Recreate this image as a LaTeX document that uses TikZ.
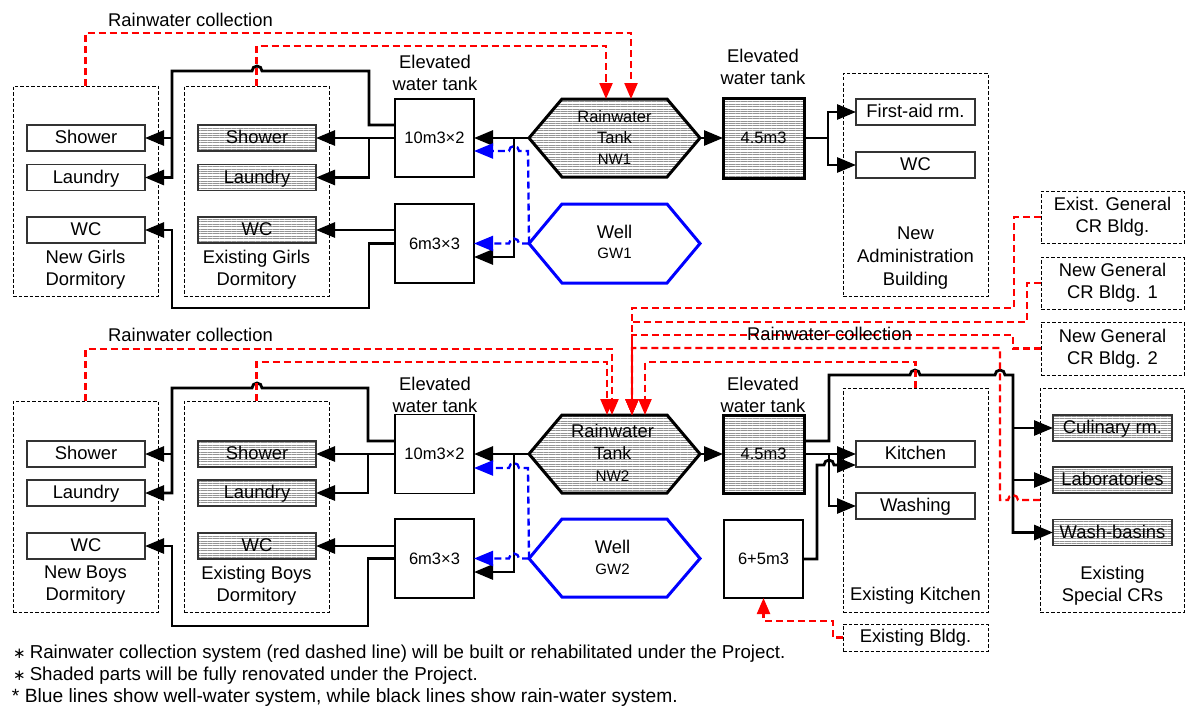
\documentclass[tikz,border=0pt]{standalone}
\usepackage{fontspec}
\setmainfont{Liberation Sans}
\newfontfamily\dejavu{DejaVu Sans}
\usetikzlibrary{arrows.meta,patterns.meta}
\begin{document}
\begin{tikzpicture}[x=1pt,y=-1pt,
  every node/.style={inner sep=0pt, outer sep=0pt},
  txt/.style={font=\fontsize{18.4}{22}\selectfont, align=center},
  hatch/.style={preaction={fill=white}, pattern={Lines[angle=0,distance=2.4pt,line width=0.8pt]}, pattern color=black!42},
  ibox/.style={draw=black!80, line width=1.2pt, minimum width=118pt, minimum height=26pt, font=\fontsize{18.4}{22}\selectfont, text height=13.4pt, text depth=2pt},
  sbox/.style={ibox, hatch},
  dbox/.style={draw, line width=1pt, dash pattern=on 3.5pt off 2pt, txt},
  tank/.style={draw, line width=1.3pt, minimum width=79pt, minimum height=79pt, font=\fontsize{16.5}{20}\selectfont},
  stank/.style={tank, line width=3pt, hatch},
  hexk/.style={draw, line width=3pt, line join=miter, hatch},
  hexb/.style={draw=blue, line width=3pt, line join=miter},
  bk/.style={line width=2.8pt, -{Triangle[length=19pt,width=15pt]}},
  rd/.style={red, line width=2.3pt, dash pattern=on 7pt off 4pt, -{Triangle[length=16pt,width=13pt]}},
  bl/.style={blue, line width=2.3pt, dash pattern=on 7pt off 4pt, -{Triangle[length=19pt,width=15pt]}},
  foot/.style={font=\fontsize{18.7}{22}\selectfont, anchor=west, text height=13.4pt, text depth=4pt}
]
\useasboundingbox (0,0) rectangle (1185,709);

% ---------- dashed building boxes ----------
\node[dbox, minimum width=145pt, minimum height=210pt] (ngd) at (85.5,191) {};
\node[dbox, minimum width=145pt, minimum height=210pt] (egd) at (256.5,191) {};
\node[dbox, minimum width=145pt, minimum height=223pt] (nab) at (915.5,184.5) {};
\node[dbox, minimum width=143pt, minimum height=52pt] (egc) at (1112.5,217) {Exist. General\\CR Bldg.};
\node[dbox, minimum width=143pt, minimum height=52pt] (ng1) at (1112.5,283) {New General\\CR Bldg. 1};
\node[dbox, minimum width=143pt, minimum height=53pt] (ng2) at (1112.5,348.5) {New General\\CR Bldg. 2};
\node[dbox, minimum width=145pt, minimum height=211pt] (nbd) at (85.5,506.5) {};
\node[dbox, minimum width=145pt, minimum height=211pt] (ebd) at (256.5,506.5) {};
\node[dbox, minimum width=145pt, minimum height=224pt] (ek) at (915.5,500) {};
\node[dbox, minimum width=144pt, minimum height=224pt] (esc) at (1112,500) {};
\node[dbox, minimum width=145pt, minimum height=27pt] (eb) at (915.5,637.5) {Existing Bldg.};

% ---------- labels ----------
\node[txt] (rc1) at (190.5,20) {Rainwater collection};
\node[txt] (rc2) at (190.5,335) {Rainwater collection};
\node[txt] (ngdl) at (85.5,270) {New Girls\\Dormitory};
\node[txt] (egdl) at (256.5,270) {Existing Girls\\Dormitory};
\node[txt] (nbdl) at (85.5,585.5) {New Boys\\Dormitory};
\node[txt] (ebdl) at (256.5,585.5) {Existing Boys\\Dormitory};
\node[txt, font=\fontsize{18.4}{23}\selectfont] (nabl) at (915.5,258) {New\\Administration\\Building};
\node[txt] (ekl) at (915.5,596) {Existing Kitchen};
\node[txt] (escl) at (1112.5,585.5) {Existing\\Special CRs};
\node[txt] (ewt1) at (435,73) {Elevated\\water tank};
\node[txt] (ewt2) at (763,66.5) {Elevated\\water tank};
\node[txt] (ewt3) at (435,395) {Elevated\\water tank};
\node[txt] (ewt4) at (763,395) {Elevated\\water tank};

% ---------- item boxes ----------
\node[ibox] (ngs) at (86,138) {Shower};
\node[ibox] (ngl) at (86,177.5) {Laundry};
\node[ibox] (ngw) at (86,230) {WC};
\node[sbox] (egs) at (257,138) {Shower};
\node[sbox] (egl) at (257,177.5) {Laundry};
\node[sbox] (egw) at (257,230) {WC};
\node[ibox, minimum width=119pt] (fa) at (915.5,112) {First-aid rm.};
\node[ibox, minimum width=119pt] (awc) at (915.5,165) {WC};
\node[ibox] (nbs) at (86,454) {Shower};
\node[ibox] (nbl) at (86,493) {Laundry};
\node[ibox] (nbw) at (86,546) {WC};
\node[sbox] (ebs) at (257,454) {Shower};
\node[sbox] (ebl) at (257,493) {Laundry};
\node[sbox] (ebw) at (257,546) {WC};
\node[ibox, minimum width=119pt] (ki) at (915.5,454) {Kitchen};
\node[ibox, minimum width=119pt] (wa) at (915.5,506) {Washing};
\node[sbox, minimum width=119pt] (cu) at (1112.5,428) {Culinary rm.};
\node[sbox, minimum width=119pt] (lab) at (1112.5,480) {Laboratories};
\node[sbox, minimum width=119pt] (wb) at (1112.5,532.5) {Wash-basins};

% ---------- tanks ----------
\node[tank, minimum height=78pt] (t1) at (434.5,138) {10m3×2};
\node[tank] (t2) at (434.5,243.5) {6m3×3};
\node[stank, minimum width=81pt, minimum height=80pt] (t3) at (763.5,138) {4.5m3};
\node[tank] (t4) at (434.5,454) {10m3×2};
\node[tank] (t5) at (434.5,558.5) {6m3×3};
\node[stank, minimum width=81pt, minimum height=78pt] (t6) at (763.5,454) {4.5m3};
\node[tank, minimum height=78pt] (t7) at (763.5,559) {6+5m3};

% ---------- hexagons ----------
\draw[hexk] (529,138) -- (562,99) -- (667,99) -- (700,138) -- (667,177) -- (562,177) -- cycle;
\draw[hexb] (529,243.5) -- (562,204) -- (667,204) -- (700,243.5) -- (667,283) -- (562,283) -- cycle;
\draw[hexk] (529,454) -- (562,415) -- (667,415) -- (700,454) -- (667,493) -- (562,493) -- cycle;
\draw[hexb] (529,558.5) -- (562,519) -- (667,519) -- (700,558.5) -- (667,597) -- (562,597) -- cycle;
\coordinate (nw1w) at (529,138);   \coordinate (nw1e) at (700,138);
\coordinate (gw1w) at (529,243.5);
\coordinate (nw2w) at (529,454);   \coordinate (nw2e) at (700,454);
\coordinate (gw2w) at (529,558.5);
\coordinate (nw1a) at (631,99);    \coordinate (nw1b) at (606,99);
\coordinate (nw2a) at (612,415);   \coordinate (nw2b) at (607,415);
\coordinate (nw2c) at (632,415);   \coordinate (nw2d) at (645,415);

\node[font=\fontsize{16.5}{20}\selectfont] (nw1t1) at (614.5,117) {Rainwater};
\node[font=\fontsize{16.5}{20}\selectfont] (nw1t2) at (614.5,138) {Tank};
\node[font=\fontsize{15}{18}\selectfont] (nw1t3) at (614.5,159) {NW1};
\node[font=\fontsize{18.4}{22}\selectfont] (gw1t1) at (614.5,232) {Well};
\node[font=\fontsize{15}{18}\selectfont] (gw1t2) at (614.5,253) {GW1};
\node[font=\fontsize{18.4}{22}\selectfont] (nw2t1) at (612.5,431) {Rainwater};
\node[font=\fontsize{17.7}{22}\selectfont] (nw2t2) at (612.5,453) {Tank};
\node[font=\fontsize{15.3}{18}\selectfont] (nw2t3) at (612.5,476) {NW2};
\node[font=\fontsize{18.4}{22}\selectfont] (gw2t1) at (612.5,547) {Well};
\node[font=\fontsize{15}{18}\selectfont] (gw2t2) at (612.5,569) {GW2};

% ---------- TOP: black supply lines ----------
\draw[bk] ([yshift=13pt]t1.west) -- (369,125) -- (369,71) -- (262,71)
   arc[start angle=0,end angle=-180,radius=5] -- (172,71) |- (ngl.east);
\draw[bk] (172,100) |- (ngs.east);
\draw[bk] (t1.west) -- (egs.east);
\draw[bk] (369,138) |- (egl.east);
\draw[bk] (t2.west |- egw.east) -- (egw.east);
\draw[bk] (t2.west) -- (369,243.5) -- (369,308) -- (172,308) |- (ngw.east);
\draw[bk] (nw1w) -- (t1.east);
\draw[bk] (514,138) |- ([yshift=-13.5pt]t2.east);
\draw[bk] (nw1e) -- (t3.west);
\draw[bk] (t3.east) -- (828,138) |- (fa.west);
\draw[bk] (828,138) |- (awc.west);
% blue
\draw[bl] (gw1w) -- (519,243.5) arc[start angle=0,end angle=-180,radius=5] -- (t2.east);
\draw[bl] (gw1w) -- (528,151) -- (519,151) arc[start angle=0,end angle=-180,radius=5] -- ([yshift=-13pt]t1.east);
% red
\draw[rd] (ngd.north) |- (631,33) -- (nw1a);
\draw[rd] (egd.north) |- (606,46) -- (nw1b);

% ---------- BOTTOM: black supply lines ----------
\draw[bk] ([yshift=13pt]t4.west) -- (368,441) -- (368,388) -- (262,388)
   arc[start angle=0,end angle=-180,radius=5] -- (172,388) |- (nbl.east);
\draw[bk] (172,420) |- (nbs.east);
\draw[bk] (t4.west) -- (ebs.east);
\draw[bk] (368,454) |- (ebl.east);
\draw[bk] (t5.west |- ebw.east) -- (ebw.east);
\draw[bk] (t5.west) -- (368,558.5) -- (368,626) -- (172,626) |- (nbw.east);
\draw[bk] (nw2w) -- (t4.east);
\draw[bk] (514,454) |- ([yshift=-13.5pt]t5.east);
\draw[bk] (nw2e) -- (t6.west);
\draw[bk] (t6.east) -- (ki.west);
\draw[bk] (829,454) |- (wa.west);
\draw[bk] ([yshift=13pt]t6.east) -- (829,441) -- (829,375) -- (910,375)
   arc[start angle=180,end angle=360,radius=5] -- (995,375)
   arc[start angle=180,end angle=360,radius=5] -- (1013,375) |- (wb.west);
\draw[bk] (1013,400) |- (cu.west);
\draw[bk] (1013,400) |- (lab.west);
\draw[bk] (t7.east) -- (817,559) -- (817,465) -- (824,465)
   arc[start angle=180,end angle=360,radius=5] -- ([yshift=-11pt]ki.west);
% blue
\draw[bl] (gw2w) -- (519,558.5) arc[start angle=0,end angle=-180,radius=5] -- (t5.east);
\draw[bl] (gw2w) -- (528,468) -- (519,468) arc[start angle=0,end angle=-180,radius=5] -- ([yshift=-14pt]t4.east);
% red
\draw[rd] (nbd.north) |- (612,349) -- (nw2a);
\draw[rd] (ebd.north) |- (607,362) -- (nw2b);
\draw[rd] (egc.west) -| (1014,308) -| (nw2c);
\draw[rd] (ng1.west) -| (1027,322) -| (nw2c);
\draw[rd] (ng2.west) -| (1013,335) -| (nw2c);
\draw[rd] (esc.west) -- (1018,500) arc[start angle=0,end angle=-180,radius=5] -- (1000,500) |- (632,348) -- (nw2c);
\draw[rd] (ek.north) |- (645,362) -- (nw2d);
\draw[rd] (eb.west) -| (833,621) -| (t7.south);
\node[txt] (rc3) at (829.5,334) {Rainwater collection};

% ---------- footnotes ----------
\node[foot] (fn1) at (13,654) {{\dejavu\fontsize{15}{22}\selectfont ∗}\kern-1pt{} Rainwater collection system (red dashed line) will be built or rehabilitated under the Project.};
\node[foot] (fn2) at (13,676) {{\dejavu\fontsize{15}{22}\selectfont ∗}\kern-1pt{} Shaded parts will be fully renovated under the Project.};
\node[foot, font=\fontsize{19.2}{22}\selectfont] (fn3) at (12,698) {* Blue lines show well-water system, while black lines show rain-water system.};
\end{tikzpicture}
\end{document}
